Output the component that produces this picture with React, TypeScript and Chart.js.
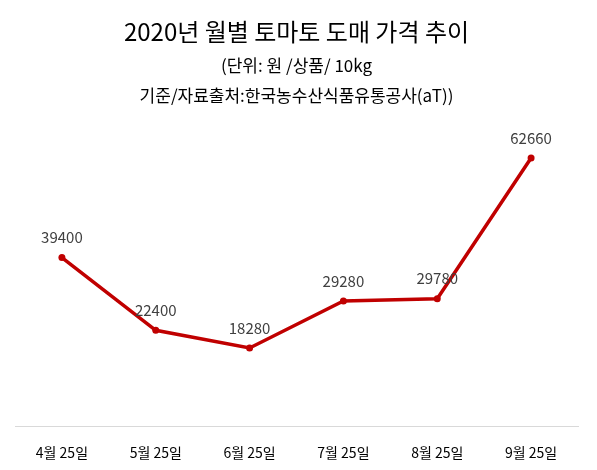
import { useEffect, useRef } from 'react';
import { Chart, registerables } from 'chart.js';

Chart.register(...registerables);

const months = ['4월 25일', '5월 25일', '6월 25일', '7월 25일', '8월 25일', '9월 25일'];
const prices = [39400, 22400, 18280, 29280, 29780, 62660];

const FONT = '"Noto Sans CJK KR", "Noto Sans", sans-serif';

const valueLabels = {
  id: 'valueLabels',
  afterDatasetsDraw(chart: Chart) {
    const ctx = chart.ctx;
    const meta = chart.getDatasetMeta(0);
    ctx.save();
    ctx.fillStyle = '#404040';
    ctx.font = `15px ${FONT}`;
    ctx.textAlign = 'center';
    ctx.textBaseline = 'middle';
    meta.data.forEach((pt, i) => {
      ctx.fillText(String(prices[i]), pt.x, pt.y - 20);
    });
    ctx.restore();
  },
};

const App = () => {
  const canvasRef = useRef<HTMLCanvasElement>(null);
  const chartRef = useRef<Chart | null>(null);

  useEffect(() => {
    document.body.style.margin = '0';
    if (!canvasRef.current) return;
    if (chartRef.current) chartRef.current.destroy();

    chartRef.current = new Chart(canvasRef.current, {
      type: 'line',
      data: {
        labels: months,
        datasets: [
          {
            label: '가격',
            data: prices,
            borderColor: '#C00000',
            backgroundColor: '#C00000',
            borderWidth: 3.5,
            pointRadius: 3.5,
            pointBorderWidth: 0,
            pointBackgroundColor: '#C00000',
            tension: 0,
          },
        ],
      },
      options: {
        responsive: true,
        maintainAspectRatio: false,
        animation: false,
        layout: {
          padding: { top: 17, left: 15, right: 19, bottom: -9 },
        },
        plugins: {
          legend: { display: false },
          tooltip: { enabled: false },
          title: {
            display: true,
            text: '2020년 월별 토마토 도매 가격 추이',
            color: '#000000',
            font: { size: 24, family: FONT, weight: 'normal' },
            padding: { top: 0, bottom: 5 },
          },
          subtitle: {
            display: true,
            text: ['(단위: 원 /상품/ 10kg', '기준/자료출처:한국농수산식품유통공사(aT))'],
            color: '#000000',
            font: { size: 17, family: FONT, lineHeight: 1.76 },
            padding: { top: 0, bottom: 16 },
          },
        },
        scales: {
          x: {
            offset: true,
            grid: { display: false, offset: true, drawTicks: false },
            border: { display: true, color: '#D9D9D9', width: 1 },
            ticks: {
              color: '#000000',
              padding: 18,
              font: { size: 14, family: FONT },
            },
          },
          y: {
            display: false,
            min: 0,
            max: 70000,
          },
        },
      },
      plugins: [valueLabels],
    });

    return () => {
      if (chartRef.current) {
        chartRef.current.destroy();
        chartRef.current = null;
      }
    };
  }, []);

  return (
    <div style={{ width: 597, height: 470, background: '#fff' }}>
      <canvas ref={canvasRef} />
    </div>
  );
};

export default App;
